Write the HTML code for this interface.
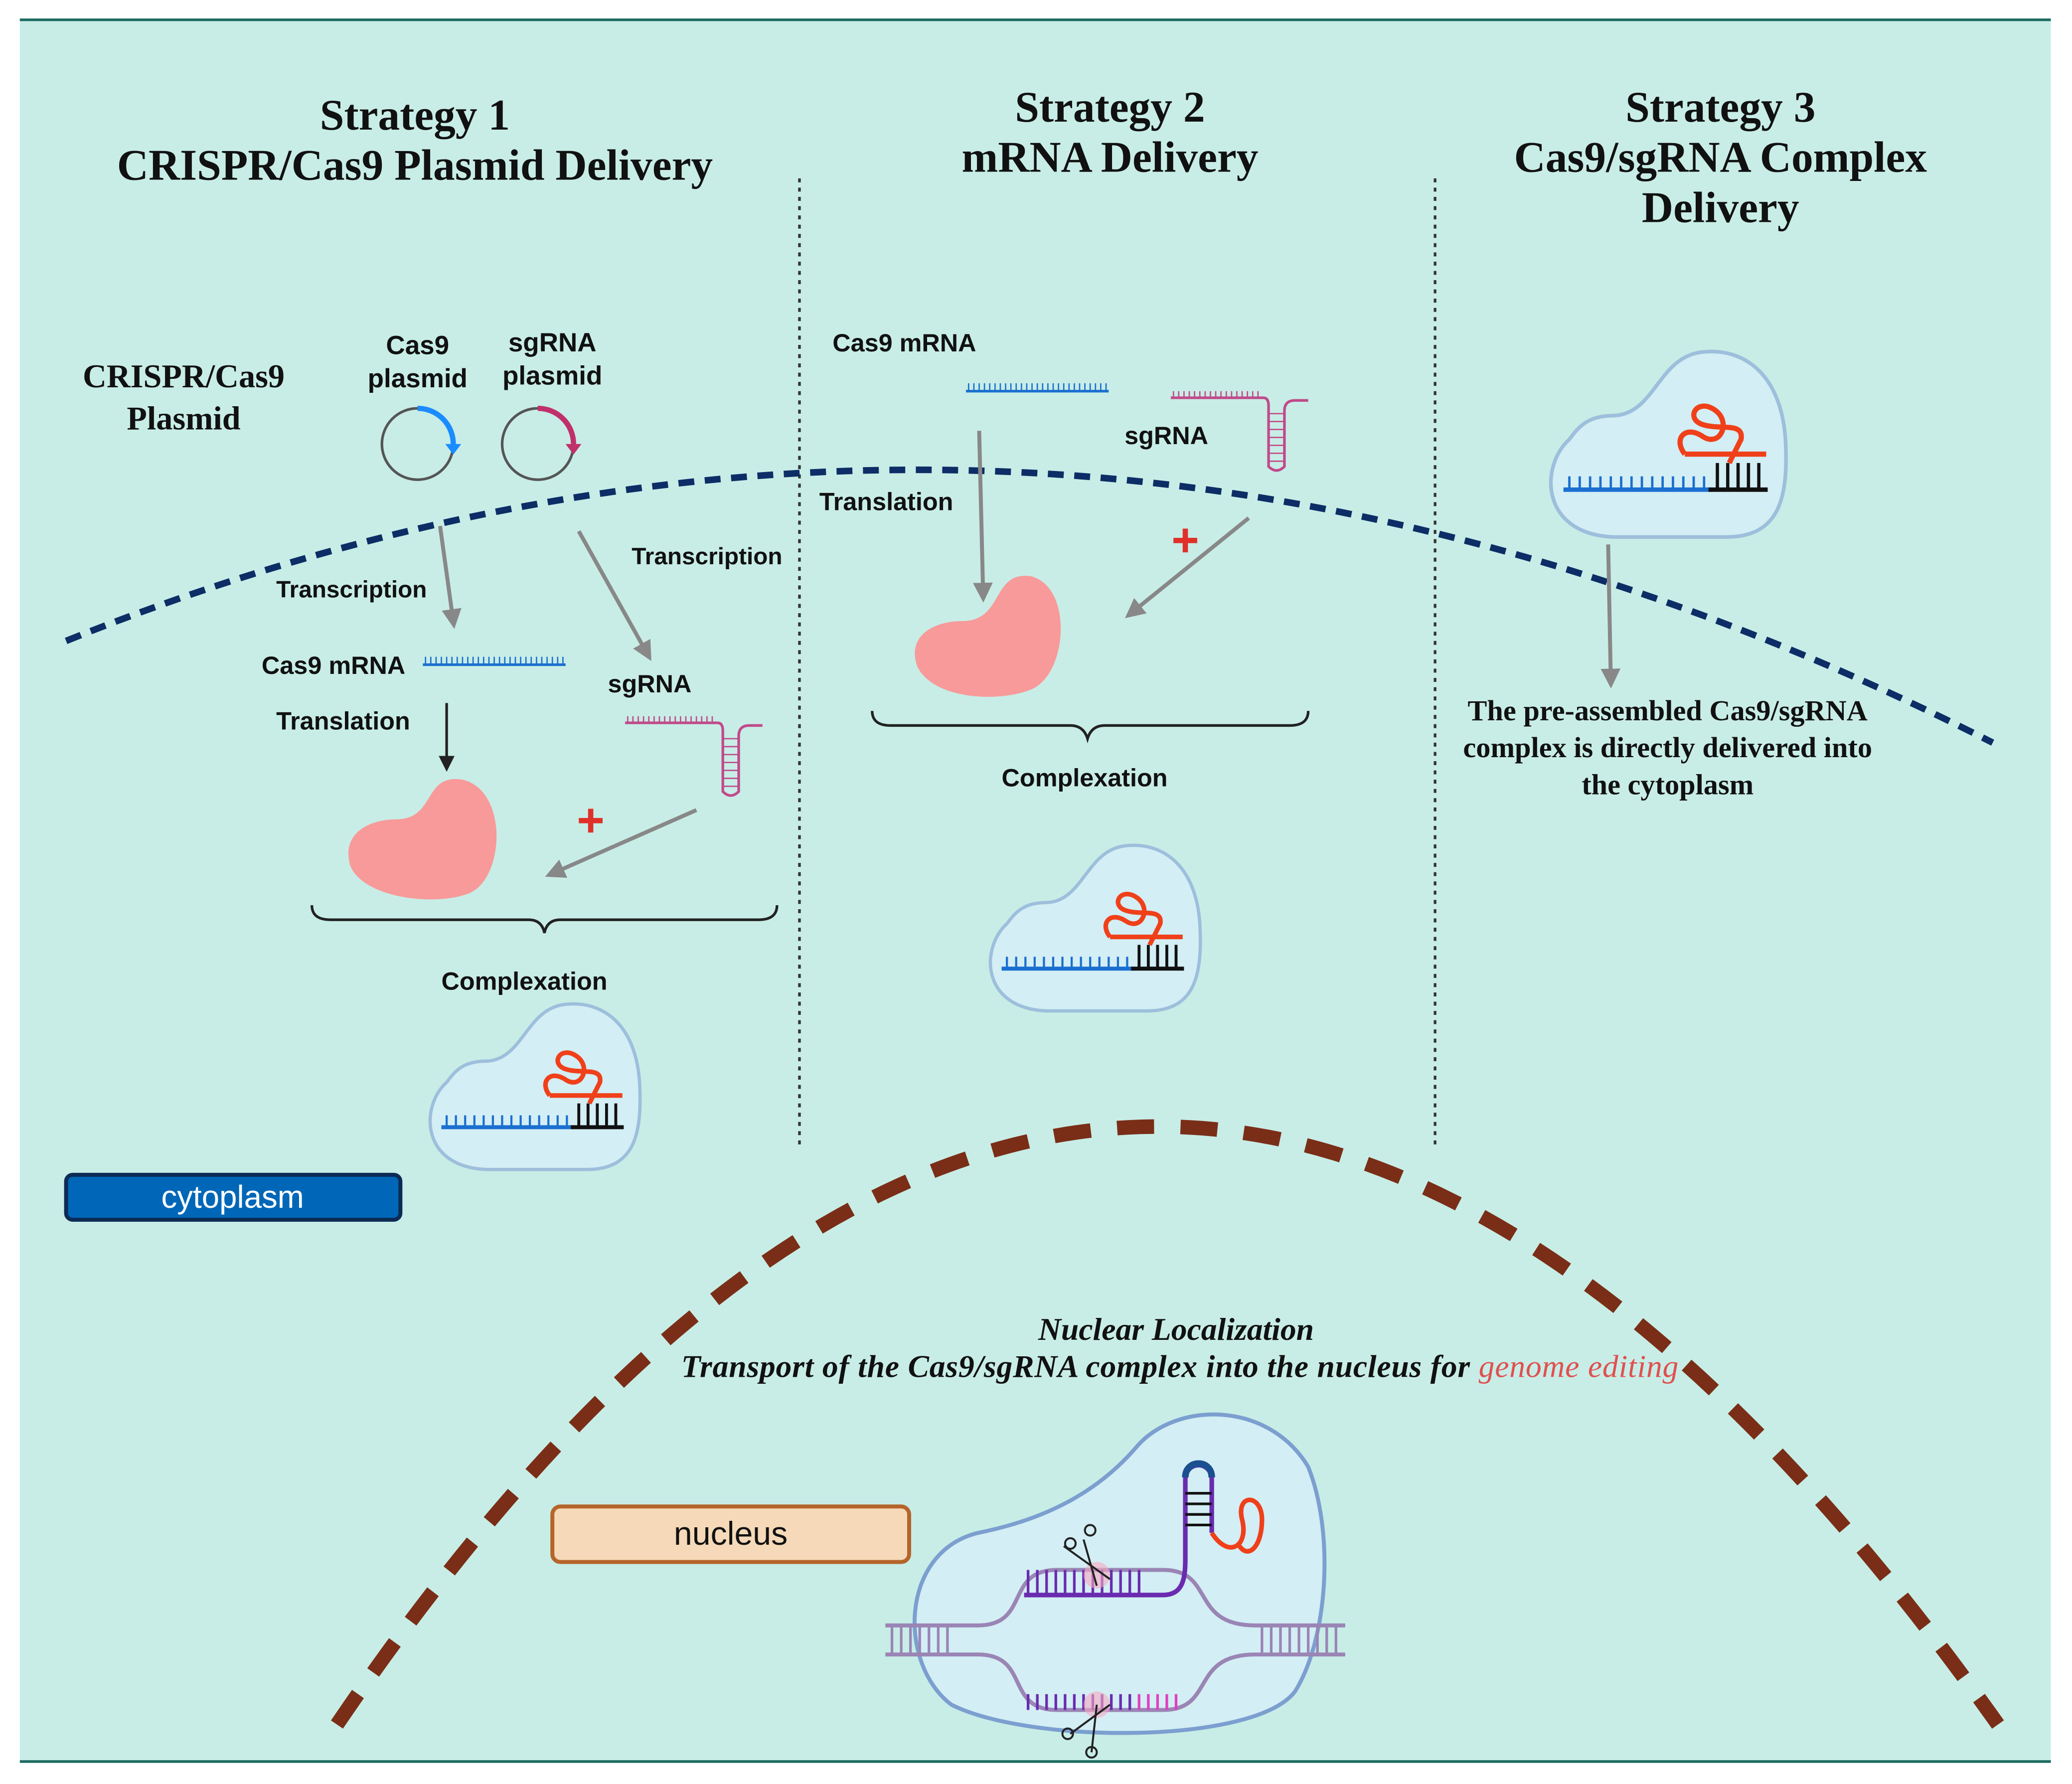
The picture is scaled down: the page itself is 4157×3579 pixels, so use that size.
<!DOCTYPE html>
<html><head><meta charset="utf-8"><style>
html,body{margin:0;padding:0;background:#fff;}
svg{display:block;}
.t{font-family:"Liberation Serif",serif;font-weight:bold;fill:#111;}
.s{font-family:"Liberation Sans",sans-serif;font-weight:bold;fill:#111;}
</style></head><body>
<svg width="4157" height="3579" viewBox="0 0 1568 1350" xmlns="http://www.w3.org/2000/svg">
<defs>
<g id="cx">
 <path d="M22 62 C2 80 2 126 52 128 L128 128 C165 128 170 100 168 62 C165 18 140 0 112 3 C82 6 80 45 52 46 C34 46 28 54 22 62 Z" fill="#d3eef4" stroke="#9dbfdc" stroke-width="2.5"/>
 <line x1="18" y1="96" x2="118" y2="96" stroke="#1a6fd0" stroke-width="3"/>
 <g stroke="#1a6fd0" stroke-width="1.6">
  <path d="M22 96v-9M29 96v-9M36 96v-9M43 96v-9M50 96v-9M57 96v-9M64 96v-9M71 96v-9M78 96v-9M85 96v-9M92 96v-9M99 96v-9M106 96v-9M113 96v-9"/>
 </g>
 <line x1="116" y1="96" x2="156" y2="96" stroke="#111" stroke-width="3"/>
 <g stroke="#111" stroke-width="2.2"><path d="M122 96v-18M129 96v-18M136 96v-18M143 96v-18M150 96v-18"/></g>
 <path d="M100 72 L155 72 M100 72 C92 62 100 52 112 60 C124 68 132 50 120 42 C108 34 100 48 112 52 C124 56 140 50 138 62 L130 78" fill="none" stroke="#f0401a" stroke-width="3.5"/>
</g>
<g id="mr"><line x1="0" y1="0" x2="108" y2="0" stroke="#1a6fd0" stroke-width="2"/><path d="M2 0v-6M6 0v-6M10 0v-6M14 0v-6M18 0v-6M22 0v-6M26 0v-6M30 0v-6M34 0v-6M38 0v-6M42 0v-6M46 0v-6M50 0v-6M54 0v-6M58 0v-6M62 0v-6M66 0v-6M70 0v-6M74 0v-6M78 0v-6M82 0v-6M86 0v-6M90 0v-6M94 0v-6M98 0v-6M102 0v-6M106 0v-6" stroke="#1a6fd0" stroke-width="1"/></g>
<g id="sg"><path d="M0 0 L70 0 Q74 0 74 6 L74 52 Q80 58 86 52 L86 10 Q86 2 94 2 L104 2" fill="none" stroke="#c04a8a" stroke-width="2"/><path d="M2 0v-5M6 0v-5M10 0v-5M14 0v-5M18 0v-5M22 0v-5M26 0v-5M30 0v-5M34 0v-5M38 0v-5M42 0v-5M46 0v-5M50 0v-5M54 0v-5M58 0v-5M62 0v-5M66 0v-5M74 12h12M74 18h12M74 24h12M74 30h12M74 36h12M74 42h12M74 48h12" stroke="#c04a8a" stroke-width="1"/></g>
<marker id="ah" markerWidth="5" markerHeight="5" refX="3" refY="2.5" orient="auto" markerUnits="strokeWidth"><path d="M0 0 L5 2.5 L0 5 Z" fill="#888"/></marker>
<marker id="ak" markerWidth="6" markerHeight="6" refX="4" refY="3" orient="auto" markerUnits="strokeWidth"><path d="M0 0 L6 3 L0 6 Z" fill="#222"/></marker>
</defs>
<rect x="0" y="0" width="1568" height="1350" fill="#fff"/>
<rect x="15" y="15" width="1537" height="1318" fill="#c8ede6"/>
<line x1="15" y1="15" x2="1552" y2="15" stroke="#1d6b62" stroke-width="2"/>
<line x1="15" y1="1333" x2="1552" y2="1333" stroke="#1d6b62" stroke-width="2"/>

<text class="t" font-size="33" text-anchor="middle" x="314" y="98">Strategy 1</text>
<text class="t" font-size="33" text-anchor="middle" x="314" y="136">CRISPR/Cas9 Plasmid Delivery</text>
<text class="t" font-size="33" text-anchor="middle" x="840" y="92">Strategy 2</text>
<text class="t" font-size="33" text-anchor="middle" x="840" y="130">mRNA Delivery</text>
<text class="t" font-size="33" text-anchor="middle" x="1302" y="92">Strategy 3</text>
<text class="t" font-size="33" text-anchor="middle" x="1302" y="130">Cas9/sgRNA Complex</text>
<text class="t" font-size="33" text-anchor="middle" x="1302" y="168">Delivery</text>

<line x1="605" y1="135" x2="605" y2="868" stroke="#333" stroke-width="2" stroke-dasharray="3 4"/>
<line x1="1086" y1="135" x2="1086" y2="868" stroke="#333" stroke-width="2" stroke-dasharray="3 4"/>

<path d="M50 485 Q779 192 1508 562" fill="none" stroke="#0d2d66" stroke-width="5" stroke-dasharray="12 8"/>
<path d="M255 1305 Q870 400 1512 1305" fill="none" stroke="#7a2e17" stroke-width="11" stroke-dasharray="28 20"/>

<!-- Strategy 1 -->
<text class="t" font-size="25" text-anchor="middle" x="139" y="293">CRISPR/Cas9</text>
<text class="t" font-size="25" text-anchor="middle" x="139" y="325">Plasmid</text>
<text class="s" font-size="20" text-anchor="middle" x="316" y="268">Cas9</text>
<text class="s" font-size="20" text-anchor="middle" x="316" y="293">plasmid</text>
<text class="s" font-size="20" text-anchor="middle" x="418" y="266">sgRNA</text>
<text class="s" font-size="20" text-anchor="middle" x="418" y="291">plasmid</text>
<circle cx="316" cy="336" r="27" fill="none" stroke="#555" stroke-width="2"/>
<path d="M316 309 A27 27 0 0 1 343 336" fill="none" stroke="#1a8cff" stroke-width="4"/>
<path d="M337 336 l6 8 l6 -8z" fill="#1a8cff"/>
<circle cx="407" cy="336" r="27" fill="none" stroke="#555" stroke-width="2"/>
<path d="M407 309 A27 27 0 0 1 434 336" fill="none" stroke="#c0306a" stroke-width="4"/>
<path d="M428 336 l6 8 l6 -8z" fill="#c0306a"/>
<line x1="333" y1="398" x2="343" y2="470" stroke="#888" stroke-width="3" marker-end="url(#ah)"/>
<line x1="438" y1="402" x2="490" y2="495" stroke="#888" stroke-width="3" marker-end="url(#ah)"/>
<text class="s" font-size="18" x="209" y="452">Transcription</text>
<text class="s" font-size="18" x="478" y="427">Transcription</text>
<text class="s" font-size="19" x="198" y="510">Cas9 mRNA</text>
<use href="#mr" x="320" y="503"/>
<text class="s" font-size="19" x="460" y="524">sgRNA</text>
<use href="#sg" x="473" y="547"/>
<text class="s" font-size="19" x="209" y="552">Translation</text>
<line x1="338" y1="532" x2="338" y2="580" stroke="#222" stroke-width="2" marker-end="url(#ak)"/>
<path d="M300 620 C330 620 320 585 350 590 C385 598 382 665 355 676 C330 686 275 680 265 655 C258 630 280 620 300 620 Z" fill="#f89a9a"/>
<path d="M447 612v18M438 621h18" stroke="#e0302a" stroke-width="4"/>
<line x1="527" y1="613" x2="418" y2="661" stroke="#888" stroke-width="3" marker-end="url(#ah)"/>
<path d="M236 685 Q236 696 250 696 L400 696 Q410 696 412 706 Q414 696 424 696 L574 696 Q588 696 588 685" fill="none" stroke="#222" stroke-width="2"/>
<text class="s" font-size="19" x="334" y="749">Complexation</text>
<use href="#cx" x="316" y="757"/>

<!-- Strategy 2 -->
<text class="s" font-size="19" x="630" y="266">Cas9 mRNA</text>
<use href="#mr" x="731" y="296"/>
<use href="#sg" x="886" y="301"/>
<text class="s" font-size="19" x="851" y="336">sgRNA</text>
<text class="s" font-size="19" x="620" y="386">Translation</text>
<line x1="741" y1="326" x2="744" y2="450" stroke="#888" stroke-width="3" marker-end="url(#ah)"/>
<path d="M728 470 C760 470 750 432 780 436 C812 444 808 508 782 521 C758 532 706 530 694 504 C686 480 708 470 728 470 Z" fill="#f89a9a"/>
<path d="M897 400v18M888 409h18" stroke="#e0302a" stroke-width="4"/>
<line x1="945" y1="392" x2="856" y2="464" stroke="#888" stroke-width="3" marker-end="url(#ah)"/>
<path d="M660 538 Q660 549 674 549 L810 549 Q820 549 823 559 Q826 549 836 549 L976 549 Q990 549 990 538" fill="none" stroke="#222" stroke-width="2"/>
<text class="s" font-size="19" x="758" y="595">Complexation</text>
<use href="#cx" x="740" y="637"/>

<!-- Strategy 3 -->
<g transform="translate(1163 263) scale(1.12)"><use href="#cx"/></g>
<line x1="1217" y1="412" x2="1219" y2="515" stroke="#888" stroke-width="3" marker-end="url(#ah)"/>
<text class="t" font-size="22" text-anchor="middle" x="1262" y="545">The pre-assembled Cas9/sgRNA</text>
<text class="t" font-size="22" text-anchor="middle" x="1262" y="573">complex is directly delivered into</text>
<text class="t" font-size="22" text-anchor="middle" x="1262" y="601">the cytoplasm</text>

<rect x="50" y="889" width="253" height="34" rx="5" fill="#0067b8" stroke="#0c2b55" stroke-width="3"/>
<text font-family="Liberation Sans,sans-serif" font-size="24" fill="#fff" text-anchor="middle" x="176" y="914">cytoplasm</text>

<text class="t" font-style="italic" font-size="24" text-anchor="middle" x="890" y="1014">Nuclear Localization</text>
<text class="t" font-style="italic" font-size="24" letter-spacing="0.3" text-anchor="middle" x="893" y="1042">Transport of the Cas9/sgRNA complex into the nucleus for <tspan fill="#e05050" font-weight="normal">genome editing</tspan></text>

<rect x="418" y="1140" width="270" height="42" rx="6" fill="#f5d9b8" stroke="#b5652a" stroke-width="3"/>
<text font-family="Liberation Sans,sans-serif" font-size="25" fill="#111" text-anchor="middle" x="553" y="1169">nucleus</text>

<!-- nucleus complex -->
<path d="M740 1160 C790 1150 830 1130 860 1095 C890 1060 960 1060 990 1110 C1010 1160 1005 1240 980 1280 C950 1320 780 1320 720 1290 C680 1260 680 1175 740 1160 Z" fill="#d3eef4" stroke="#7c9fd0" stroke-width="3"/>
<path d="M670 1230 L740 1230 C780 1230 760 1188 800 1188 L880 1188 C920 1188 900 1230 950 1230 L1018 1230" fill="none" stroke="#9a85b5" stroke-width="3"/>
<path d="M670 1252 L740 1252 C780 1252 760 1294 800 1294 L880 1294 C920 1294 900 1252 950 1252 L1018 1252" fill="none" stroke="#9a85b5" stroke-width="3"/>
<g stroke="#9a85b5" stroke-width="2"><path d="M675 1230v22M682 1230v22M689 1230v22M696 1230v22M703 1230v22M710 1230v22M717 1230v22M955 1230v22M962 1230v22M969 1230v22M976 1230v22M983 1230v22M990 1230v22M997 1230v22M1004 1230v22M1011 1230v22"/></g>
<path d="M775 1207 L880 1207 C895 1207 897 1195 897 1180 L897 1120 C897 1105 917 1105 917 1120 L917 1160" fill="none" stroke="#6a2bb0" stroke-width="3.5"/>
<g stroke="#6a2bb0" stroke-width="2"><path d="M778 1207v-19M785 1207v-19M792 1207v-19M799 1207v-19M806 1207v-19M813 1207v-19M820 1207v-19M827 1207v-19M834 1207v-19M841 1207v-19M848 1207v-19M855 1207v-19M862 1207v-19"/></g>
<path d="M897 1118 C897 1104 917 1104 917 1118" fill="none" stroke="#1a5090" stroke-width="5"/>
<g stroke="#111" stroke-width="2"><path d="M897 1130h20M897 1138h20M897 1146h20M897 1154h20"/></g>
<path d="M917 1160 C930 1180 945 1170 940 1150 C935 1130 955 1130 955 1150 C955 1170 945 1180 938 1170" fill="none" stroke="#f0401a" stroke-width="3.5"/>
<g stroke="#6a2bb0" stroke-width="2"><path d="M778 1294v-12M785 1294v-12M792 1294v-12M799 1294v-12M806 1294v-12M813 1294v-12M820 1294v-12M827 1294v-12M834 1294v-12M841 1294v-12M848 1294v-12M855 1294v-12"/></g>
<g stroke="#e040c0" stroke-width="2"><path d="M862 1294v-12M869 1294v-12M876 1294v-12M883 1294v-12M890 1294v-12"/></g>
<circle cx="830" cy="1192" r="10" fill="#f7a8c0" opacity="0.6"/>
<circle cx="830" cy="1290" r="10" fill="#f7a8c0" opacity="0.6"/>
<g stroke="#222" stroke-width="1.5" fill="none"><path d="M805 1170 L840 1195 M820 1165 L830 1200"/><circle cx="810" cy="1168" r="4"/><circle cx="825" cy="1158" r="4"/><path d="M810 1312 L840 1290 M826 1326 L830 1290"/><circle cx="808" cy="1312" r="4"/><circle cx="826" cy="1326" r="4"/></g>
</svg>
</body></html>
